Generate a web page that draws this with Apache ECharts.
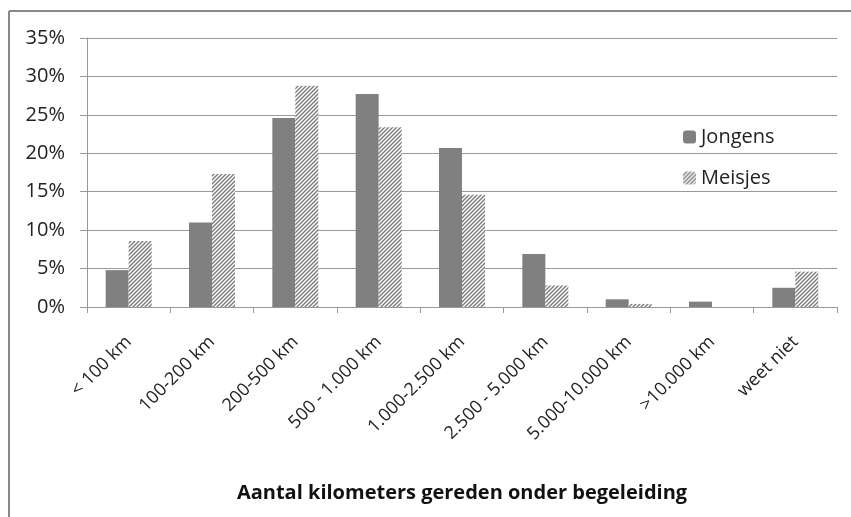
<!DOCTYPE html>
<html>
<head>
<meta charset="utf-8">
<script src="https://cdn.jsdelivr.net/npm/echarts@6/dist/echarts.min.js"></script>
<style>
  html, body { margin: 0; padding: 0; background: #fff; }
  #chart { width: 851px; height: 517px; }
</style>
</head>
<body>
<div id="chart"></div>
<script>
// categories and values (percent)
const categories = ['< 100 km', '100-200 km', '200-500 km', '500 - 1.000 km', '1.000-2.500 km',
  '2.500 - 5.000 km', '5.000-10.000 km', '>10.000 km', 'weet niet'];
const jongens = [4.8, 11.0, 24.6, 27.7, 20.7, 6.9, 1.0, 0.7, 2.5];
const meisjes = [8.6, 17.3, 28.8, 23.4, 14.6, 2.8, 0.4, 0, 4.6];
const yTicks = [0, 5, 10, 15, 20, 25, 30, 35];

// hatch pattern for Meisjes
function makeHatch() {
  var c = document.createElement('canvas');
  c.width = 4; c.height = 4;
  var ctx = c.getContext('2d');
  ctx.fillStyle = '#ffffff';
  ctx.fillRect(0, 0, 4, 4);
  ctx.strokeStyle = '#7a7a7a';
  ctx.lineWidth = 1.4;
  ctx.beginPath();
  ctx.moveTo(0, 4); ctx.lineTo(4, 0);
  ctx.moveTo(-1, 1); ctx.lineTo(1, -1);
  ctx.moveTo(3, 5); ctx.lineTo(5, 3);
  ctx.stroke();
  return c;
}

var chartDom = document.getElementById('chart');
var myChart = echarts.init(chartDom);
var font = '"Open Sans", Lato, sans-serif';
var option = {
  animation: false,
  textStyle: { fontFamily: font },
  graphic: [
    { type: 'line', shape: { x1: 9, y1: 11, x2: 851, y2: 11 }, style: { stroke: '#888', lineWidth: 2 } },
    { type: 'line', shape: { x1: 9, y1: 11, x2: 9, y2: 517 }, style: { stroke: '#888', lineWidth: 2 } }
  ],
  grid: { left: 87, right: 14, top: 38, bottom: 210 },
  legend: {
    orient: 'vertical',
    left: 678,
    top: 122,
    itemWidth: 13,
    itemHeight: 13,
    itemGap: 21,
    textStyle: { fontSize: 20, color: '#222', fontFamily: font },
    data: ['Jongens', 'Meisjes']
  },
  xAxis: {
    type: 'category',
    data: categories,
    name: 'Aantal kilometers gereden onder begeleiding',
    nameLocation: 'middle',
    nameGap: 176,
    nameTextStyle: { fontSize: 20, fontWeight: 'bold', color: '#111', fontFamily: font },
    axisLine: { lineStyle: { color: '#999', width: 1 } },
    axisTick: { show: true, length: 6, lineStyle: { color: '#999' } },
    axisLabel: { rotate: 45, fontSize: 18, color: '#222', margin: 32, interval: 0 }
  },
  yAxis: {
    type: 'value',
    min: 0,
    max: 35,
    interval: 5,
    axisLine: { show: true, lineStyle: { color: '#999' } },
    axisTick: { show: true, length: 7, lineStyle: { color: '#999' } },
    splitLine: { lineStyle: { color: '#999', width: 1 } },
    axisLabel: {
      fontSize: 20, color: '#222', margin: 22,
      formatter: function (v) { return yTicks.indexOf(v) >= 0 ? v + '%' : ''; }
    }
  },
  series: [
    {
      name: 'Jongens',
      type: 'bar',
      data: jongens,
      barWidth: 23,
      barGap: '0%',
      itemStyle: { color: '#808080' }
    },
    {
      name: 'Meisjes',
      type: 'bar',
      data: meisjes,
      barWidth: 23,
      barGap: '0%',
      itemStyle: { color: { image: makeHatch(), repeat: 'repeat' } }
    }
  ]
};
myChart.setOption(option);
</script>
</body>
</html>
